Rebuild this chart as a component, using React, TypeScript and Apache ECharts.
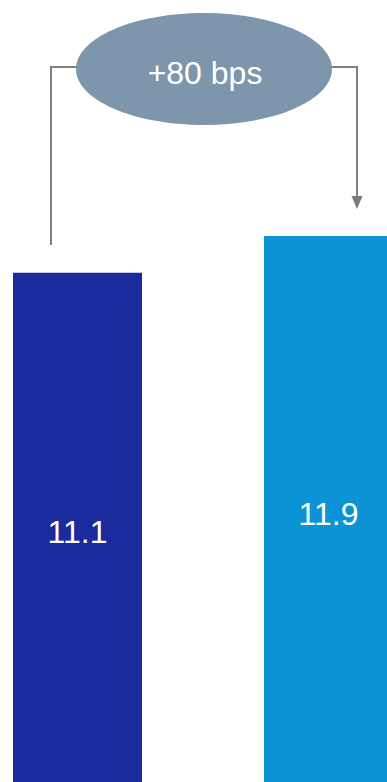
import React, { useEffect, useRef } from "react";
import * as echarts from "echarts";

const categories = ["Before", "After"];
const values = [11.1, 11.9];
const barColors = ["#1b2b9e", "#0b93d5"];
const changeLabel = "+80 bps";

export default function App() {
  const ref = useRef<HTMLDivElement>(null);
  useEffect(() => {
    const chart = echarts.init(ref.current!, null, { renderer: "svg" });
    chart.setOption({
      animation: false,
      grid: { left: -48, width: 502, top: 48, bottom: 0, outerBoundsMode: "none", containLabel: false },
      xAxis: {
        type: "category",
        data: categories,
        show: false,
      },
      yAxis: { type: "value", min: 0, max: 16, show: false },
      series: [
        {
          type: "bar",
          barWidth: 129,
          data: values.map((v, i) => ({ value: v, itemStyle: { color: barColors[i] } })),
          label: {
            show: true,
            position: "inside",
            offset: [0, 5],
            color: "#ffffff",
            fontSize: 32,
            fontFamily: "Liberation Sans, Arial, sans-serif",
            formatter: (p: any) => p.value.toFixed(1),
          },
        },
      ],
      graphic: [
        {
          type: "polyline",
          shape: { points: [[51, 245], [51, 67], [78, 67]] },
          style: { stroke: "#808080", lineWidth: 2, fill: null },
          z: 10,
        },
        {
          type: "polyline",
          shape: { points: [[330, 67], [357, 67], [357, 198]] },
          style: { stroke: "#808080", lineWidth: 2, fill: null },
          z: 10,
        },
        {
          type: "polygon",
          shape: { points: [[357, 209], [351.5, 196], [362.5, 196]] },
          style: { fill: "#7a7a7a" },
          z: 10,
        },
        {
          type: "ellipse",
          shape: { cx: 204, cy: 69, rx: 128, ry: 56 },
          style: { fill: "#7e96ac" },
          z: 11,
        },
        {
          type: "text",
          x: 205,
          y: 73,
          style: {
            text: changeLabel,
            fill: "#ffffff",
            fontSize: 32,
            fontFamily: "Liberation Sans, Arial, sans-serif",
            align: "center",
            verticalAlign: "middle",
          },
          z: 12,
        },
      ],
    });
    return () => chart.dispose();
  }, []);
  return (
    <div
      ref={ref}
      style={{ position: "fixed", left: 0, top: 0, width: 387, height: 782, background: "#ffffff" }}
    />
  );
}
